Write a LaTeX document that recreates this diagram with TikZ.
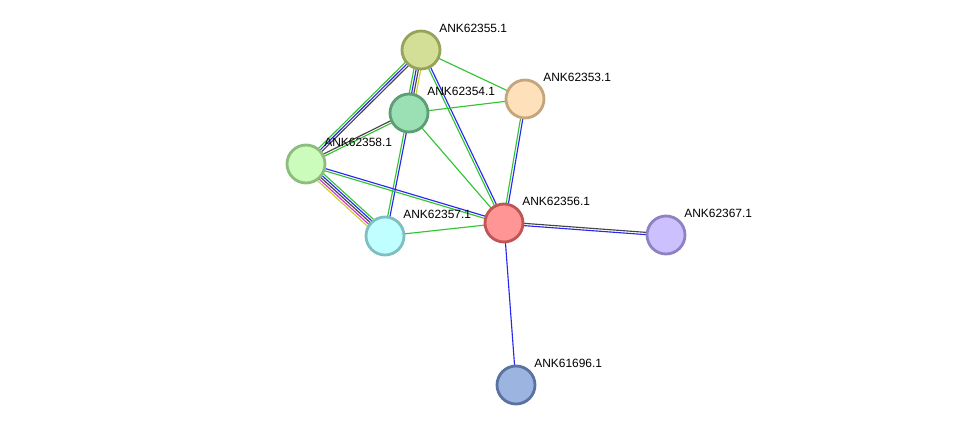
\documentclass[tikz,border=0pt]{standalone}
\usepackage{fontspec}
\setmainfont{Liberation Sans}
\usetikzlibrary{calc,backgrounds}

\definecolor{sgreen}{RGB}{51,196,51}
\definecolor{sblue}{RGB}{40,40,240}
\definecolor{sblack}{RGB}{70,70,70}
\definecolor{syellow}{RGB}{200,210,40}
\definecolor{smagenta}{RGB}{210,50,210}

\tikzset{
    prot/.style={circle,minimum size=38*0.02cm,inner sep=0pt,line width=1.6pt},
    lbl/.style={anchor=west,inner sep=0pt,font=\fontsize{6.8}{8}\selectfont},
    edge/.style={line width=0.65pt}
}

% parallel lines between two nodes: colour/offset pairs
\newcommand\multiedge[3]{%
    \foreach \c/\o in {#3}{
        \draw[edge,\c] ($(#1)!\o pt!90:(#2)$) -- ($(#2)!\o pt!-90:(#1)$);
    }%
}

\begin{document}
\begin{tikzpicture}[x=0.02cm,y=-0.02cm]
    \useasboundingbox (0,0) rectangle (976,431);
    % Proteins
        \node[prot,fill={rgb,255:red,211;green,223;blue,151},draw={rgb,255:red,151;green,163;blue,90}] (n55) at (421,50) {};
        \node[prot,fill={rgb,255:red,254;green,225;blue,186},draw={rgb,255:red,195;green,166;blue,126}] (n53) at (525,99) {};
        \node[prot,fill={rgb,255:red,155;green,224;blue,180},draw={rgb,255:red,94;green,158;blue,117}] (n54) at (409,113) {};
        \node[prot,fill={rgb,255:red,204;green,252;blue,187},draw={rgb,255:red,141;green,189;blue,126}] (n58) at (306,164) {};
        \node[prot,fill={rgb,255:red,191;green,255;blue,255},draw={rgb,255:red,127;green,191;blue,191}] (n57) at (385,236) {};
        \node[prot,fill={rgb,255:red,255;green,149;blue,149},draw={rgb,255:red,192;green,85;blue,85}] (n56) at (504,223) {};
        \node[prot,fill={rgb,255:red,204;green,192;blue,255},draw={rgb,255:red,142;green,130;blue,192}] (n67) at (666,235) {};
        \node[prot,fill={rgb,255:red,155;green,180;blue,224},draw={rgb,255:red,90;green,114;blue,159}] (n96) at (516,385) {};
    % Labels
        \node[lbl] (l55) at ($(n55)+(18,-22)$) {ANK62355.1};
        \node[lbl] (l53) at ($(n53)+(18,-22)$) {ANK62353.1};
        \node[lbl] (l54) at ($(n54)+(18,-22)$) {ANK62354.1};
        \node[lbl] (l58) at ($(n58)+(18,-22)$) {ANK62358.1};
        \node[lbl] (l57) at ($(n57)+(18,-22)$) {ANK62357.1};
        \node[lbl] (l56) at ($(n56)+(18,-22)$) {ANK62356.1};
        \node[lbl] (l67) at ($(n67)+(18,-22)$) {ANK62367.1};
        \node[lbl] (l96) at ($(n96)+(18,-22)$) {ANK61696.1};
    % Interactions
    \begin{pgfonlayer}{background}
        \multiedge{n55}{n54}{sgreen/-1.95,sblue/-0.65,sblack/0.65,syellow/1.95}
        \multiedge{n55}{n58}{sblack/1.3,sblue/0,sgreen/-1.3}
        \multiedge{n55}{n53}{sgreen/0}
        \multiedge{n55}{n56}{sblue/0.65,sgreen/-0.65}
        \multiedge{n54}{n53}{sgreen/0}
        \multiedge{n54}{n58}{sblack/-0.65,sgreen/0.65}
        \multiedge{n54}{n56}{sgreen/0}
        \multiedge{n54}{n57}{sblue/0.65,sgreen/-0.65}
        \multiedge{n53}{n56}{sblue/0.65,sgreen/-0.65}
        \multiedge{n58}{n56}{sblue/0.65,sgreen/-0.65}
        \multiedge{n58}{n57}{syellow/-2.6,smagenta/-1.3,sblack/0,sblue/1.3,sgreen/2.6}
        \multiedge{n57}{n56}{sgreen/0}
        \multiedge{n56}{n67}{sblue/-0.65,sblack/0.65}
        \multiedge{n56}{n96}{sblue/0}
    \end{pgfonlayer}
\end{tikzpicture}
\end{document}
